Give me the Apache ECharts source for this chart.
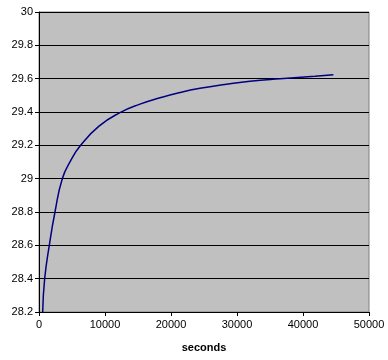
<!DOCTYPE html>
<html>
<head>
<meta charset="utf-8">
<script src="https://cdn.jsdelivr.net/npm/echarts@6/dist/echarts.min.js"></script>
<style>html,body{margin:0;padding:0;background:#fff}#c{width:388px;height:360px}</style>
</head>
<body>
<div id="c"></div>
<script>
var seconds = [560, 860, 1560, 2420, 3530, 4800, 6310, 9090, 12200, 15300, 18330, 21360, 24390, 28940, 31970, 36520, 41820, 44600];
var values  = [28.2, 28.4, 28.6, 28.8, 29.0, 29.108, 29.2, 29.315, 29.395, 29.447, 29.485, 29.517, 29.542, 29.57, 29.585, 29.6, 29.615, 29.624];
var xTitle = 'seconds';

var chart = echarts.init(document.getElementById('c'), null, {renderer: 'canvas'});
var font = 'Liberation Sans, Arial, sans-serif';
chart.setOption({
  animation: false,
  backgroundColor: '#ffffff',
  grid: {left: 39, right: 19, top: 12, bottom: 48, show: true, backgroundColor: '#C0C0C0', borderColor: '#808080', borderWidth: 1},
  xAxis: {
    type: 'value', min: 0, max: 50000, interval: 10000,
    name: xTitle, nameLocation: 'middle', nameGap: 30,
    nameTextStyle: {fontFamily: font, fontSize: 11, fontWeight: 'bold', color: '#000'},
    axisLine: {show: true, lineStyle: {color: '#000', width: 1}},
    axisTick: {show: true, inside: false, length: 4, lineStyle: {color: '#000'}},
    axisLabel: {fontFamily: font, fontSize: 11, color: '#000', margin: 7,
      formatter: function (v) { return String(v); }},
    splitLine: {show: false}
  },
  yAxis: {
    type: 'value', min: 28.2, max: 30, interval: 0.2,
    axisLine: {show: true, lineStyle: {color: '#000', width: 1}},
    axisTick: {show: true, inside: false, length: 4, lineStyle: {color: '#000'}},
    axisLabel: {fontFamily: font, fontSize: 11, color: '#000', margin: 6,
      formatter: function (v) { return String(Math.round(v * 10) / 10); }},
    splitLine: {show: true, lineStyle: {color: '#000', width: 1}}
  },
  series: [{
    type: 'line', smooth: 0.5, showSymbol: false,
    data: seconds.map(function (s, i) { return [s, values[i]]; }),
    lineStyle: {color: '#000080', width: 1.5},
    itemStyle: {color: '#000080'}
  }]
});
</script>
</body>
</html>
